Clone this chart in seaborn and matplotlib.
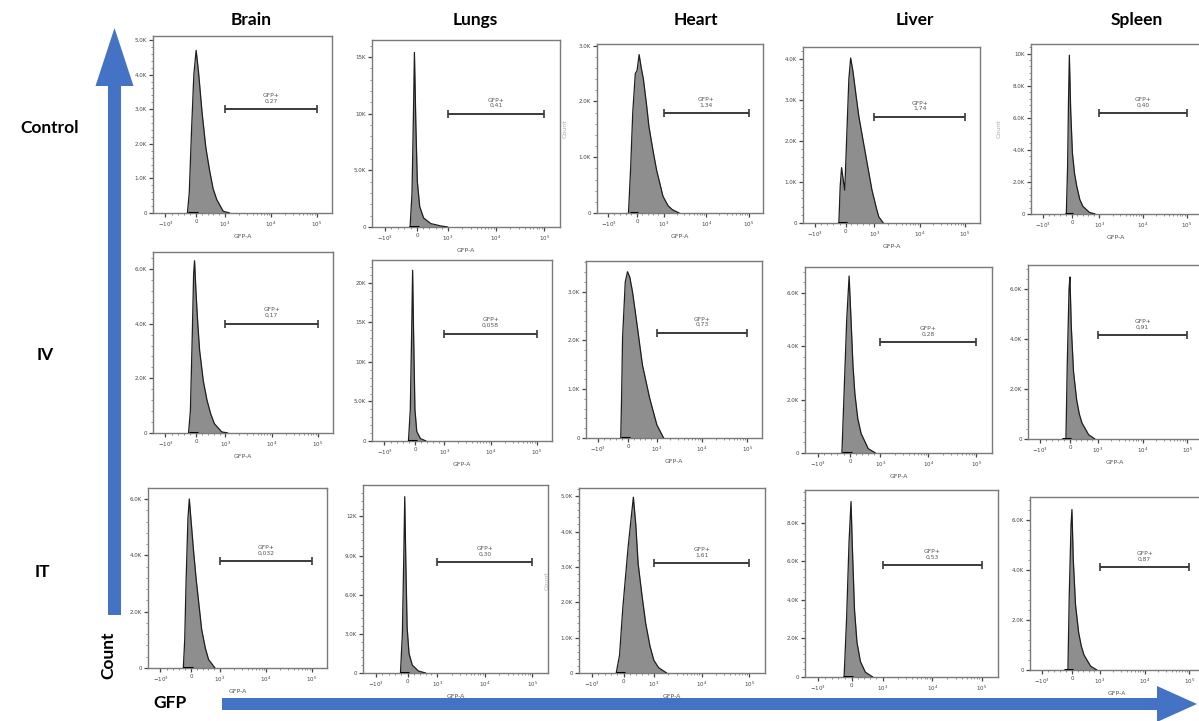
import numpy as np
import matplotlib
matplotlib.use("Agg")
import matplotlib.pyplot as plt
import seaborn as sns
from matplotlib.patches import FancyArrow
from matplotlib.ticker import FixedLocator, FuncFormatter

sns.set_theme(style="white")
plt.rcParams['font.family'] = ['DejaVu Sans']

# ---------------- data ----------------
organs = ["Brain", "Lungs", "Heart", "Liver", "Spleen"]
routes = ["Control", "IV", "IT"]

# x-axis: biexponential display units (10^3 -> 3, 10^4 -> 4, 10^5 -> 5)
x_tick_pos = [1.70, 2.37, 3.0, 4.0, 5.0]
x_tick_labels = [r"$-10^3$", "0", r"$10^3$", r"$10^4$", r"$10^5$"]

# histogram outlines (display position, count)
ctrl_brain_x = [2.18, 2.22, 2.27, 2.32, 2.37, 2.42, 2.50, 2.58, 2.66, 2.74, 2.82, 2.96, 3.10]
ctrl_brain_y = [0, 580, 2400, 4000, 4700, 4100, 2890, 1900, 1250, 700, 385, 50, 0]
ctrl_lungs_x = [2.22, 2.26, 2.29, 2.31, 2.34, 2.37, 2.42, 2.50, 2.65, 2.85, 3.00]
ctrl_lungs_y = [0, 3000, 10000, 15400, 9000, 4000, 1800, 800, 300, 100, 0]
ctrl_heart_x = [2.17, 2.22, 2.27, 2.33, 2.37, 2.42, 2.47, 2.52, 2.60, 2.65, 2.75, 2.83, 2.98, 3.10, 3.20, 3.36]
ctrl_heart_y = [0, 800, 1800, 2500, 2550, 2840, 2600, 2400, 1900, 1550, 1100, 770, 300, 130, 60, 0]
ctrl_liver_x = [2.22, 2.25, 2.28, 2.31, 2.35, 2.39, 2.44, 2.48, 2.53, 2.60, 2.66, 2.74, 2.82, 2.95, 3.05, 3.10, 3.20]
ctrl_liver_y = [0, 900, 1350, 1100, 800, 2000, 3500, 4020, 3700, 3100, 2600, 2100, 1600, 800, 350, 150, 0]
ctrl_spleen_x = [2.24, 2.27, 2.29, 2.31, 2.34, 2.38, 2.43, 2.48, 2.55, 2.62, 2.77, 2.90]
ctrl_spleen_y = [0, 3000, 7000, 9900, 6500, 3800, 2500, 1730, 900, 480, 100, 0]

iv_brain_x = [2.20, 2.24, 2.28, 2.31, 2.33, 2.36, 2.40, 2.44, 2.52, 2.60, 2.68, 2.76, 2.92, 3.05]
iv_brain_y = [0, 800, 3500, 5800, 6300, 5200, 4000, 3020, 1900, 1200, 700, 340, 40, 0]
iv_lungs_x = [2.22, 2.26, 2.29, 2.31, 2.33, 2.36, 2.40, 2.48, 2.60]
iv_lungs_y = [0, 4000, 14000, 21600, 14000, 4000, 1200, 300, 0]
iv_heart_x = [2.20, 2.22, 2.24, 2.30, 2.35, 2.40, 2.46, 2.55, 2.68, 2.84, 3.00, 3.15]
iv_heart_y = [0, 900, 2050, 3200, 3410, 3300, 3000, 2400, 1500, 820, 270, 0]
iv_liver_x = [2.20, 2.25, 2.30, 2.35, 2.39, 2.43, 2.47, 2.53, 2.60, 2.75, 2.90]
iv_liver_y = [0, 2500, 5000, 6640, 5000, 3300, 2230, 1300, 730, 160, 0]
iv_spleen_x = [2.28, 2.31, 2.35, 2.37, 2.40, 2.45, 2.52, 2.58, 2.64, 2.79, 2.93]
iv_spleen_y = [0, 3000, 6000, 6480, 4500, 2700, 1570, 1000, 640, 170, 0]

it_brain_x = [2.20, 2.23, 2.26, 2.30, 2.33, 2.37, 2.42, 2.48, 2.60, 2.68, 2.75, 2.89]
it_brain_y = [0, 1000, 3100, 5300, 6000, 5200, 4200, 3140, 1360, 700, 300, 0]
it_lungs_x = [2.22, 2.26, 2.29, 2.31, 2.33, 2.36, 2.40, 2.47, 2.60, 2.75]
it_lungs_y = [0, 3000, 9000, 13500, 9000, 3500, 1500, 600, 150, 0]
it_heart_x = [2.21, 2.28, 2.35, 2.46, 2.57, 2.62, 2.67, 2.75, 2.83, 2.92, 3.00, 3.10, 3.20, 3.27]
it_heart_y = [0, 500, 1860, 3560, 4970, 4200, 3090, 2200, 1390, 750, 360, 150, 60, 0]
it_liver_x = [2.22, 2.27, 2.32, 2.36, 2.39, 2.43, 2.48, 2.55, 2.65, 2.80]
it_liver_y = [0, 3000, 7000, 9100, 6500, 3500, 1800, 800, 250, 0]
it_spleen_x = [2.28, 2.31, 2.35, 2.37, 2.40, 2.45, 2.52, 2.58, 2.64, 2.79, 2.93]
it_spleen_y = [0, 3000, 5800, 6400, 4400, 2600, 1500, 950, 600, 150, 0]

curves = [
    [(ctrl_brain_x, ctrl_brain_y), (ctrl_lungs_x, ctrl_lungs_y), (ctrl_heart_x, ctrl_heart_y),
     (ctrl_liver_x, ctrl_liver_y), (ctrl_spleen_x, ctrl_spleen_y)],
    [(iv_brain_x, iv_brain_y), (iv_lungs_x, iv_lungs_y), (iv_heart_x, iv_heart_y),
     (iv_liver_x, iv_liver_y), (iv_spleen_x, iv_spleen_y)],
    [(it_brain_x, it_brain_y), (it_lungs_x, it_lungs_y), (it_heart_x, it_heart_y),
     (it_liver_x, it_liver_y), (it_spleen_x, it_spleen_y)],
]

# GFP+ gate percentages (as printed)
gfp_pct = [
    ["0,27", "0,41", "1,34", "1,74", "0,40"],
    ["0,17", "0,058", "0,73", "0,28", "0,91"],
    ["0,032", "0,30", "1,61", "0,53", "0,87"],
]
# gate height (count) on each panel
gate_y = [
    [3000, 10000, 1790, 2590, 6300],
    [4000, 13600, 2160, 4160, 4150],
    [3800, 8500, 3100, 5800, 4100],
]
gate_start, gate_end = 3.0, 5.0

# y-axis ranges and tick steps
y_max = [
    [5115, 16500, 3030, 4290, 10600],
    [6620, 22900, 3630, 6980, 6960],
    [6390, 14400, 5230, 9700, 6900],
]
y_step = [
    [1000, 5000, 1000, 1000, 2000],
    [2000, 5000, 1000, 2000, 2000],
    [2000, 3000, 1000, 2000, 2000],
]

# ---------------- layout (pixel boxes: x0, x1, y0, y1) ----------------
W, H = 1199, 721
boxes = [
    [(153, 332, 36, 213), (372, 560, 40, 227), (597, 763, 44, 213), (803, 980, 47, 223), (1031, 1201, 44, 214)],
    [(153, 333, 252, 433), (372, 552, 260, 441), (586, 762, 261, 438), (805, 992, 267, 453), (1028, 1202, 265, 439)],
    [(148, 327, 488, 668), (363, 548, 485, 673), (579, 765, 488, 673), (805, 998, 490, 677), (1030, 1204, 497, 670)],
]
count_label_panels = {(0, 2), (0, 4), (2, 0), (2, 2)}

fig = plt.figure(figsize=(W / 100, H / 100), dpi=100)
fig.patch.set_facecolor("white")


def kfmt(v, pos):
    if abs(v) < 1e-9:
        return "0"
    if v >= 10000:
        return f"{v / 1000:.0f}K"
    return f"{v / 1000:.1f}K"


minor_x = list(np.linspace(1.70, 2.37, 6)[1:-1]) + list(np.linspace(2.37, 3.0, 6)[1:-1])
for d in (3, 4):
    minor_x += [d + np.log10(k) for k in range(2, 10)]

for r in range(3):
    for c in range(5):
        x0, x1, y0, y1 = boxes[r][c]
        ax = fig.add_axes([x0 / W, 1 - y1 / H, (x1 - x0) / W, (y1 - y0) / H])
        xs, ys = curves[r][c]
        ax.fill_between(xs, ys, 0, color="#8e8e8e", linewidth=0, zorder=2)
        sns.lineplot(x=xs, y=ys, ax=ax, color="#1e1e1e", linewidth=0.9, sort=False,
                     estimator=None, zorder=3)
        ax.plot([2.2, 2.4], [0, 0], color="black", lw=2.2, solid_capstyle="butt", zorder=4)
        # gate
        mid = (gate_start + gate_end) / 2
        ax.errorbar([mid], [gate_y[r][c]], xerr=[(gate_end - gate_start) / 2], fmt="none",
                    ecolor="#3a3a3a", elinewidth=1.4, capsize=3.2, capthick=1.2, zorder=4)
        ax.annotate("GFP+\n" + gfp_pct[r][c], (mid, gate_y[r][c]), xytext=(0, 4),
                    textcoords="offset points", ha="center", va="bottom", fontsize=4.3,
                    color="#555555", linespacing=1.15)
        ax.set_xlim(1.43, 5.33)
        ax.set_ylim(0, y_max[r][c])
        ax.xaxis.set_major_locator(FixedLocator(x_tick_pos))
        ax.set_xticklabels(x_tick_labels)
        ax.xaxis.set_minor_locator(FixedLocator(minor_x))
        st = y_step[r][c]
        yt = np.arange(0, y_max[r][c] + 1, st)
        ax.yaxis.set_major_locator(FixedLocator(yt))
        ax.yaxis.set_minor_locator(FixedLocator(np.arange(0, y_max[r][c], st / 5)))
        ax.yaxis.set_major_formatter(FuncFormatter(kfmt))
        ax.tick_params(axis="both", which="major", direction="out", length=3, width=0.9,
                       colors="#444444", labelsize=4, pad=1.5, bottom=True, left=True)
        ax.tick_params(axis="both", which="minor", direction="out", length=1.5, width=0.5,
                       colors="#666666", bottom=True, left=True)
        for sp in ax.spines.values():
            sp.set_color("#7a7a7a")
            sp.set_linewidth(1.0)
        ax.set_xlabel("GFP-A", fontsize=4.5, color="#555555", labelpad=4)
        if (r, c) in count_label_panels:
            ax.set_ylabel("Count", fontsize=4.5, color="#aaaaaa", labelpad=8)
        else:
            ax.set_ylabel("")
        ax.set_facecolor("white")

# ---------------- overlay: arrows and headings ----------------
ov = fig.add_axes([0, 0, 1, 1], zorder=10)
ov.set_xlim(0, W)
ov.set_ylim(H, 0)
ov.axis("off")
ov.patch.set_alpha(0)
blue = "#4472C4"
ov.add_patch(FancyArrow(114.5, 615, 0, -587, width=13, head_width=38, head_length=58,
                        length_includes_head=True, color=blue, linewidth=0))
ov.add_patch(FancyArrow(222, 704, 975, 0, width=12, head_width=36, head_length=40,
                        length_includes_head=True, color=blue, linewidth=0))

title_x = [251, 475, 696, 915, 1137]
for name, tx in zip(organs, title_x):
    ov.text(tx, 20, name, ha="center", va="center", fontsize=12.5, fontweight="bold",
            family="Lato", color="black")
row_pos = [(50, 128), (45, 355), (42, 572)]
for name, (tx, ty) in zip(routes, row_pos):
    ov.text(tx, ty, name, ha="center", va="center", fontsize=12.5, fontweight="bold",
            family="Lato", color="black")
ov.text(108, 655, "Count", ha="center", va="center", rotation=90, fontsize=12.5,
        fontweight="bold", family="Lato", color="black")
ov.text(170, 703, "GFP", ha="center", va="center", fontsize=12.5, fontweight="bold",
        family="Lato", color="black")

fig.savefig("out.png", dpi=100, facecolor="white")
